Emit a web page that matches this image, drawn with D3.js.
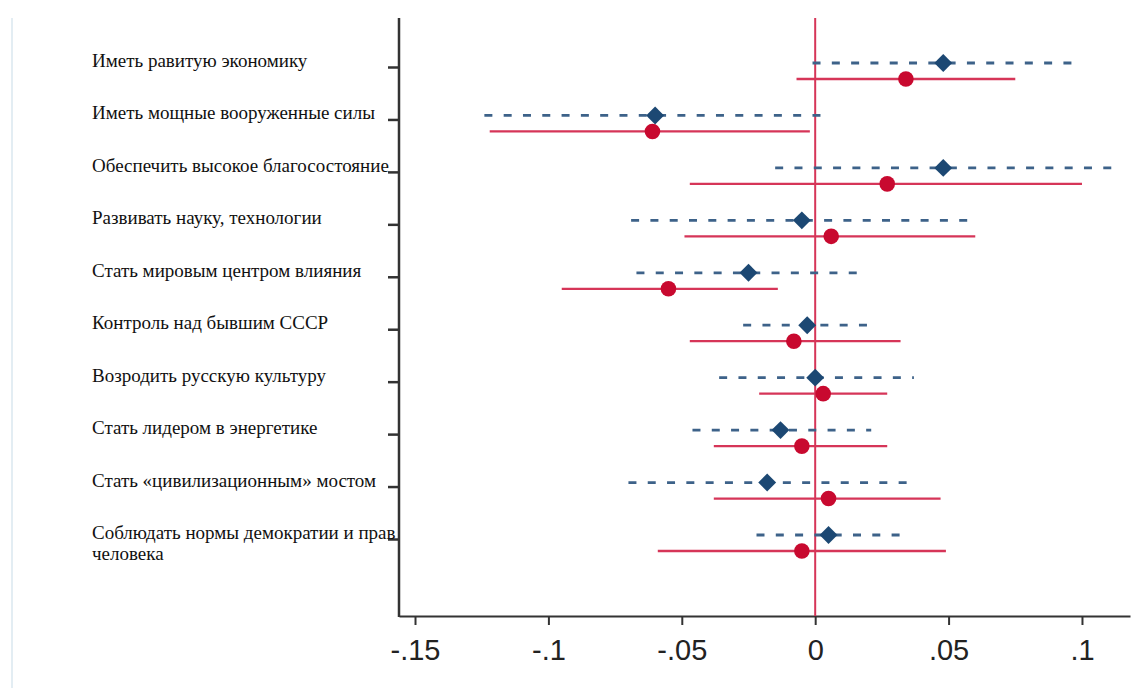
<!DOCTYPE html>
<html>
<head>
<meta charset="utf-8">
<script src="https://cdn.jsdelivr.net/npm/d3@7"></script>
<style>
  body { margin: 0; background: #fff; }
  svg { display: block; }
</style>
</head>
<body>
<div id="chart"></div>
<script>
const width = 1144
const height = 688

const blue = "#1c4873"
const blueLine = "#3d6289"
const red = "#c8092f"
const redLine = "#d63558"
const axisColor = "#333"

// goals, top to bottom
const categories = [
  "Иметь равитую экономику",
  "Иметь мощные вооруженные силы",
  "Обеспечить высокое благосостояние",
  "Развивать науку, технологии",
  "Стать мировым центром влияния",
  "Контроль над бывшим СССР",
  "Возродить русскую культуру",
  "Стать лидером в энергетике",
  "Стать «цивилизационным» мостом",
  "Соблюдать нормы демократии и прав\nчеловека"
];

// blue series (dashed CI)
const blueCoef = [0.048, -0.060, 0.048, -0.005, -0.025, -0.003, 0.000, -0.013, -0.018, 0.005];
const blueLow  = [-0.001, -0.124, -0.015, -0.069, -0.067, -0.027, -0.036, -0.046, -0.070, -0.022];
const blueHigh = [0.098, 0.005, 0.112, 0.061, 0.018, 0.023, 0.037, 0.021, 0.036, 0.033];

// red series (solid CI)
const redCoef = [0.034, -0.061, 0.027, 0.006, -0.055, -0.008, 0.003, -0.005, 0.005, -0.005];
const redLow  = [-0.007, -0.122, -0.047, -0.049, -0.095, -0.047, -0.021, -0.038, -0.038, -0.059];
const redHigh = [0.075, -0.002, 0.100, 0.060, -0.014, 0.032, 0.027, 0.027, 0.047, 0.049];

const xTicks = [-0.15, -0.1, -0.05, 0, 0.05, 0.1];

const plot = { left: 399, right: 1130, top: 18, bottom: 616 };

const svg = d3.select("#chart")
  .append("svg")
  .attr("width", width)
  .attr("height", height)
  .attr("viewBox", `0 0 ${width} ${height}`);

svg.append("rect").attr("width", width).attr("height", height).attr("fill", "#fff");

// faint page edge on the left
svg.append("line")
  .attr("x1", 12).attr("x2", 12)
  .attr("y1", plot.top).attr("y2", height)
  .attr("stroke", "#e3edf3")
  .attr("stroke-width", 2);

const x = d3.scaleLinear()
  .domain([-0.156, 0.118])
  .range([plot.left, plot.right]);

const y = d3.scaleLinear()
  .domain([0, categories.length - 1])
  .range([67, 539]);

const blueOff = -4;
const redOff = 12;

// x axis
const xAxis = d3.axisBottom(x)
  .tickValues(xTicks)
  .tickSize(9)
  .tickSizeOuter(0)
  .tickFormat(d => String(d).replace("0.", "."));

const gx = svg.append("g")
  .attr("transform", `translate(0,${plot.bottom})`)
  .call(xAxis);

gx.select(".domain").attr("stroke", axisColor).attr("stroke-width", 2);
gx.selectAll(".tick line").attr("stroke", axisColor).attr("stroke-width", 2);
gx.selectAll(".tick text")
  .attr("y", 23)
  .attr("fill", "#222")
  .style("font-family", "'Liberation Sans', Arial, sans-serif")
  .style("font-size", "29px");

// y axis: ticks only, line drawn over the full frame height
const yAxis = d3.axisLeft(y)
  .tickValues(d3.range(categories.length))
  .tickSize(11)
  .tickFormat("");

const gy = svg.append("g")
  .attr("transform", `translate(${plot.left},0)`)
  .call(yAxis);
gy.select(".domain").remove();
gy.selectAll(".tick line").attr("stroke", axisColor).attr("stroke-width", 2.5);

svg.append("line")
  .attr("x1", plot.left).attr("x2", plot.left)
  .attr("y1", plot.top).attr("y2", plot.bottom + 1)
  .attr("stroke", axisColor)
  .attr("stroke-width", 2.5);

// category labels, clipped at the axis
svg.append("clipPath").attr("id", "labelClip")
  .append("rect")
  .attr("x", 0).attr("y", 0)
  .attr("width", plot.left - 1).attr("height", height);

const labels = svg.append("g")
  .attr("clip-path", "url(#labelClip)")
  .style("font-family", "'Liberation Serif', 'Times New Roman', serif")
  .style("font-size", "19px")
  .attr("fill", "#111");

categories.forEach((c, i) => {
  const lines = c.split("\n");
  const t = labels.append("text")
    .attr("x", 92)
    .attr("y", y(i))
    .attr("dy", lines.length > 1 ? "-0.35em" : "0.35em");
  lines.forEach((ln, j) => {
    t.append("tspan")
      .attr("x", 92)
      .attr("dy", j === 0 ? 0 : "1.1em")
      .text(ln);
  });
});

// zero reference line
svg.append("line")
  .attr("x1", x(0)).attr("x2", x(0))
  .attr("y1", plot.top).attr("y2", plot.bottom)
  .attr("stroke", redLine)
  .attr("stroke-width", 2);

const idx = d3.range(categories.length);

// blue CIs (dashed)
svg.append("g").selectAll("line")
  .data(idx)
  .join("line")
  .attr("x1", i => x(blueLow[i]))
  .attr("x2", i => x(blueHigh[i]))
  .attr("y1", i => y(i) + blueOff)
  .attr("y2", i => y(i) + blueOff)
  .attr("stroke", blueLine)
  .attr("stroke-width", 2.8)
  .attr("stroke-dasharray", "8,11.3");

// red CIs (solid)
svg.append("g").selectAll("line")
  .data(idx)
  .join("line")
  .attr("x1", i => x(redLow[i]))
  .attr("x2", i => x(redHigh[i]))
  .attr("y1", i => y(i) + redOff)
  .attr("y2", i => y(i) + redOff)
  .attr("stroke", redLine)
  .attr("stroke-width", 2.3);

// blue diamonds
const diamond = d3.symbol().type(d3.symbolSquare).size(160);
svg.append("g").selectAll("path")
  .data(idx)
  .join("path")
  .attr("d", diamond)
  .attr("transform", i => `translate(${x(blueCoef[i])},${y(i) + blueOff}) rotate(45)`)
  .attr("fill", blue);

// red dots
svg.append("g").selectAll("circle")
  .data(idx)
  .join("circle")
  .attr("cx", i => x(redCoef[i]))
  .attr("cy", i => y(i) + redOff)
  .attr("r", 7.8)
  .attr("fill", red);
</script>
</body>
</html>
